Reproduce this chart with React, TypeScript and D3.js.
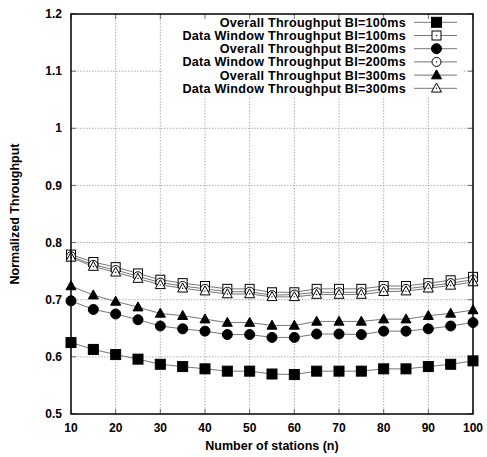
import React, { useEffect, useRef } from "react";
import * as d3 from "d3";

const stations = [10, 15, 20, 25, 30, 35, 40, 45, 50, 55, 60, 65, 70, 75, 80, 85, 90, 95, 100];

const overall100 = [0.625, 0.613, 0.604, 0.596, 0.587, 0.583, 0.579, 0.575, 0.575, 0.57, 0.569, 0.575, 0.575, 0.575, 0.579, 0.579, 0.583, 0.587, 0.593];
const window100 = [0.779, 0.766, 0.757, 0.746, 0.735, 0.729, 0.724, 0.719, 0.719, 0.713, 0.713, 0.719, 0.719, 0.719, 0.724, 0.724, 0.729, 0.734, 0.74];
const overall200 = [0.698, 0.683, 0.675, 0.665, 0.654, 0.649, 0.645, 0.639, 0.639, 0.634, 0.634, 0.64, 0.64, 0.639, 0.645, 0.645, 0.649, 0.654, 0.66];
const window200 = [0.776, 0.761, 0.752, 0.741, 0.73, 0.724, 0.719, 0.714, 0.714, 0.708, 0.709, 0.713, 0.713, 0.713, 0.719, 0.719, 0.724, 0.729, 0.735];
const overall300 = [0.724, 0.708, 0.697, 0.687, 0.676, 0.672, 0.666, 0.66, 0.66, 0.655, 0.655, 0.662, 0.662, 0.662, 0.666, 0.666, 0.672, 0.676, 0.682];
const window300 = [0.774, 0.758, 0.748, 0.737, 0.726, 0.72, 0.715, 0.71, 0.71, 0.705, 0.705, 0.709, 0.709, 0.709, 0.714, 0.715, 0.72, 0.725, 0.731];

const seriesNames = [
  "Overall Throughput BI=100ms",
  "Data Window Throughput BI=100ms",
  "Overall Throughput BI=200ms",
  "Data Window Throughput BI=200ms",
  "Overall Throughput BI=300ms",
  "Data Window Throughput BI=300ms",
];
const seriesValues = [overall100, window100, overall200, window200, overall300, window300];
const seriesShapes = ["square", "square", "circle", "circle", "triangle", "triangle"];
const seriesFilled = [true, false, true, false, true, false];

const xTicks = [10, 20, 30, 40, 50, 60, 70, 80, 90, 100];
const yTicks = [0.5, 0.6, 0.7, 0.8, 0.9, 1, 1.1, 1.2];

const App = () => {
  const svgRef = useRef<SVGSVGElement>(null);

  useEffect(() => {
    const svg = d3.select(svgRef.current);
    svg.selectAll("*").remove();

    const width = 487,
      height = 457;
    const margin = { top: 14, right: 14, bottom: 43, left: 71 };
    const innerW = width - margin.left - margin.right;
    const innerH = height - margin.top - margin.bottom;
    const font = "'Liberation Sans', Arial, sans-serif";

    const x = d3.scaleLinear().domain([10, 100]).range([0, innerW]);
    const y = d3.scaleLinear().domain([0.5, 1.2]).range([innerH, 0]);

    const g = svg.append("g").attr("transform", `translate(${margin.left},${margin.top})`);

    // grid
    g.selectAll(".vgrid")
      .data(xTicks.slice(1, -1))
      .enter()
      .append("line")
      .attr("x1", (d) => x(d))
      .attr("x2", (d) => x(d))
      .attr("y1", 0)
      .attr("y2", innerH)
      .attr("stroke", "#999")
      .attr("stroke-width", 0.8)
      .attr("stroke-dasharray", "1.5,1.5");
    g.selectAll(".hgrid")
      .data(yTicks.slice(1, -1))
      .enter()
      .append("line")
      .attr("x1", 0)
      .attr("x2", innerW)
      .attr("y1", (d) => y(d))
      .attr("y2", (d) => y(d))
      .attr("stroke", "#999")
      .attr("stroke-width", 0.8)
      .attr("stroke-dasharray", "1.5,1.5");

    // legend background
    const legX = 162 - margin.left;
    g.append("rect")
      .attr("x", legX)
      .attr("y", 1)
      .attr("width", 462 - margin.left - legX)
      .attr("height", 95 - margin.top)
      .attr("fill", "#fff");

    // ticks (inside, mirrored)
    const tickLen = 5;
    xTicks.forEach((t) => {
      g.append("line").attr("x1", x(t)).attr("x2", x(t)).attr("y1", innerH).attr("y2", innerH - tickLen).attr("stroke", "#333").attr("stroke-width", 0.7);
      g.append("line").attr("x1", x(t)).attr("x2", x(t)).attr("y1", 0).attr("y2", tickLen).attr("stroke", "#333").attr("stroke-width", 0.7);
    });
    yTicks.forEach((t) => {
      g.append("line").attr("x1", 0).attr("x2", tickLen).attr("y1", y(t)).attr("y2", y(t)).attr("stroke", "#333").attr("stroke-width", 0.7);
      g.append("line").attr("x1", innerW).attr("x2", innerW - tickLen).attr("y1", y(t)).attr("y2", y(t)).attr("stroke", "#333").attr("stroke-width", 0.7);
    });

    // tick labels
    g.selectAll(".xlab")
      .data(xTicks)
      .enter()
      .append("text")
      .attr("x", (d) => x(d))
      .attr("y", innerH + 18)
      .attr("text-anchor", "middle")
      .attr("font-family", font)
      .attr("font-weight", "bold")
      .attr("font-size", "12px")
      .text((d) => d);
    g.selectAll(".ylab")
      .data(yTicks)
      .enter()
      .append("text")
      .attr("x", -9)
      .attr("y", (d) => y(d))
      .attr("dy", "0.35em")
      .attr("text-anchor", "end")
      .attr("font-family", font)
      .attr("font-weight", "bold")
      .attr("font-size", "12px")
      .text((d) => d);

    // axis titles
    svg.append("text")
      .attr("x", margin.left + innerW / 2)
      .attr("y", 450)
      .attr("text-anchor", "middle")
      .attr("font-family", font)
      .attr("font-weight", "bold")
      .attr("font-size", "12.5px")
      .text("Number of stations (n)");
    svg.append("text")
      .attr("transform", `translate(19,${margin.top + innerH / 2}) rotate(-90)`)
      .attr("text-anchor", "middle")
      .attr("font-family", font)
      .attr("font-weight", "bold")
      .attr("font-size", "12.5px")
      .text("Normalized Throughput");

    const drawMarker = (sel, shape, filled, cx, cy) => {
      const fill = filled ? "#000" : "#fff";
      if (shape === "square") {
        const s = filled ? 10 : 9;
        sel.append("rect").attr("x", cx - s / 2).attr("y", cy - s / 2).attr("width", s).attr("height", s)
          .attr("fill", fill).attr("stroke", "#000").attr("stroke-width", 1);
      } else if (shape === "circle") {
        sel.append("circle").attr("cx", cx).attr("cy", cy).attr("r", filled ? 5 : 4.5)
          .attr("fill", fill).attr("stroke", "#000").attr("stroke-width", 1);
      } else {
        const s = 5;
        const pts = [[cx, cy - s * 1.05], [cx + s, cy + s * 0.75], [cx - s, cy + s * 0.75]];
        sel.append("polygon").attr("points", pts.map((p) => p.join(",")).join(" "))
          .attr("fill", fill).attr("stroke", "#000").attr("stroke-width", 1);
      }
      if (!filled) {
        sel.append("circle").attr("cx", cx).attr("cy", cy).attr("r", 0.7).attr("fill", "#000");
      }
    };

    // series lines
    const line = d3.line<number>().x((d, i) => x(stations[i])).y((d) => y(d));
    seriesValues.forEach((vals) => {
      g.append("path").attr("d", line(vals)).attr("fill", "none").attr("stroke", "#777").attr("stroke-width", 1);
    });

    // markers
    seriesValues.forEach((vals, si) => {
      const mg = g.append("g");
      vals.forEach((v, i) => drawMarker(mg, seriesShapes[si], seriesFilled[si], x(stations[i]), y(v)));
    });

    // border
    g.append("rect").attr("x", 0).attr("y", 0).attr("width", innerW).attr("height", innerH)
      .attr("fill", "none").attr("stroke", "#000").attr("stroke-width", 1.5);

    // legend
    seriesNames.forEach((name, i) => {
      const ly = 22.3 + i * 13.2;
      svg.append("text")
        .attr("x", 406)
        .attr("y", ly)
        .attr("dy", "0.35em")
        .attr("text-anchor", "end")
        .attr("font-family", font)
        .attr("font-weight", "bold")
        .attr("font-size", "12.6px")
        .attr("letter-spacing", "0.25px")
        .text(name);
      svg.append("line").attr("x1", 414).attr("x2", 457).attr("y1", ly).attr("y2", ly)
        .attr("stroke", "#777").attr("stroke-width", 1);
      drawMarker(svg.append("g"), seriesShapes[i], seriesFilled[i], 436.5, ly);
    });
  }, []);

  return (
    <div style={{ position: "absolute", left: 0, top: 0 }}>
      <svg ref={svgRef} width={487} height={457} style={{ display: "block", background: "#fff" }}></svg>
    </div>
  );
};

export default App;
